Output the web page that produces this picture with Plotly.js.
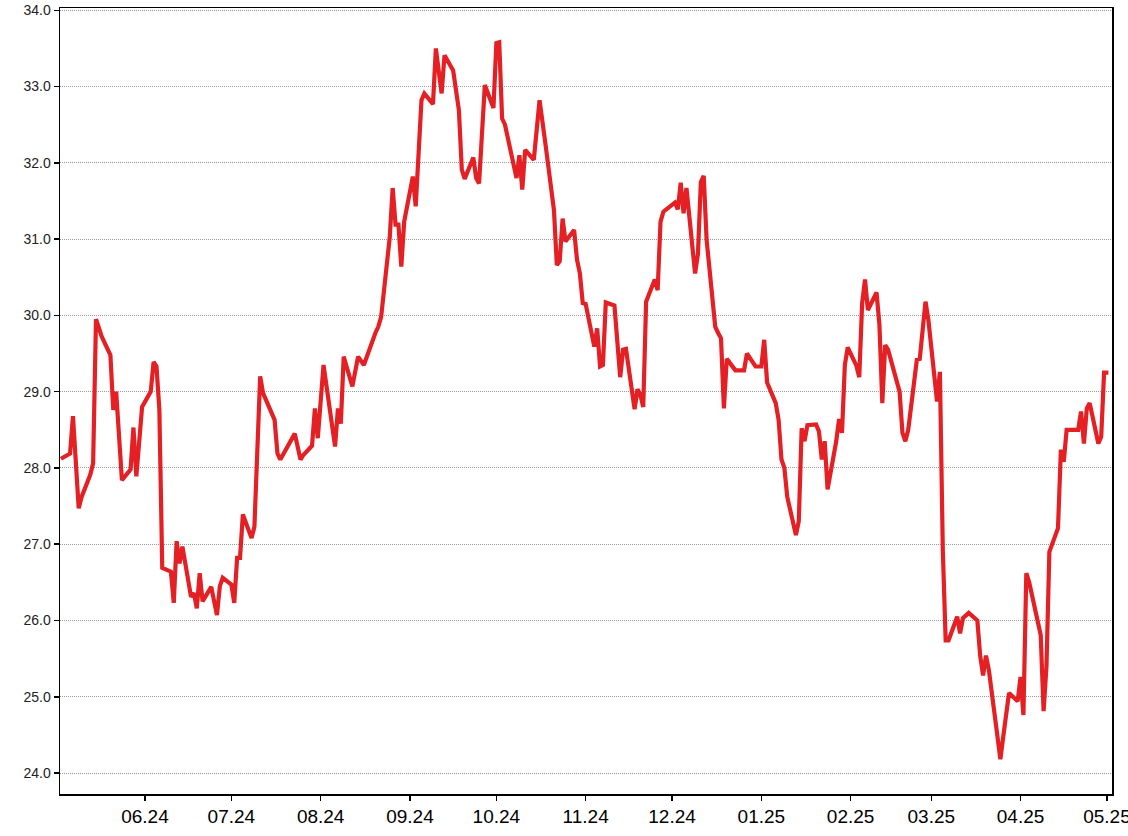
<!DOCTYPE html>
<html>
<head>
<meta charset="utf-8">
<script src="https://cdn.plot.ly/plotly-3.0.1.min.js"></script>
<style>
html,body{margin:0;padding:0;background:#fff;}
#chart{width:1128px;height:836px;}
</style>
</head>
<body>
<div id="chart"></div>
<script>
const dates = [
'2024-05-02 20:00','2024-05-06','2024-05-07','2024-05-09','2024-05-10','2024-05-13','2024-05-14','2024-05-15','2024-05-17','2024-05-20',
'2024-05-21','2024-05-22','2024-05-24','2024-05-27','2024-05-28','2024-05-29','2024-05-31',
'2024-06-03','2024-06-04','2024-06-05','2024-06-06','2024-06-07','2024-06-10','2024-06-11','2024-06-12','2024-06-13','2024-06-14',
'2024-06-17','2024-06-18','2024-06-19','2024-06-20','2024-06-21','2024-06-24','2024-06-26','2024-06-27','2024-06-28',
'2024-07-01','2024-07-02','2024-07-03','2024-07-04','2024-07-05','2024-07-08','2024-07-09','2024-07-11','2024-07-12','2024-07-16',
'2024-07-17','2024-07-18','2024-07-23','2024-07-25','2024-07-26','2024-07-29','2024-07-30','2024-07-31',
'2024-08-02','2024-08-06','2024-08-07','2024-08-08','2024-08-09','2024-08-12','2024-08-14','2024-08-16','2024-08-20','2024-08-21',
'2024-08-22','2024-08-25','2024-08-26','2024-08-27','2024-08-28','2024-08-29','2024-08-30',
'2024-09-02','2024-09-03','2024-09-05','2024-09-06','2024-09-09','2024-09-10','2024-09-12','2024-09-13','2024-09-16','2024-09-18',
'2024-09-19','2024-09-20','2024-09-23','2024-09-24','2024-09-25','2024-09-27','2024-09-30',
'2024-10-01','2024-10-02','2024-10-03','2024-10-04','2024-10-08','2024-10-09','2024-10-10','2024-10-11','2024-10-14','2024-10-16',
'2024-10-18','2024-10-21','2024-10-22','2024-10-23','2024-10-24','2024-10-25','2024-10-28','2024-10-29','2024-10-30','2024-10-31',
'2024-11-01','2024-11-04','2024-11-05','2024-11-06','2024-11-07','2024-11-08','2024-11-11','2024-11-13','2024-11-14','2024-11-15',
'2024-11-18','2024-11-19','2024-11-20','2024-11-21','2024-11-22','2024-11-25','2024-11-26','2024-11-27','2024-11-28',
'2024-12-01','2024-12-02','2024-12-03','2024-12-04','2024-12-05','2024-12-06','2024-12-09','2024-12-10','2024-12-11','2024-12-12',
'2024-12-13','2024-12-16','2024-12-17','2024-12-18','2024-12-19','2024-12-20','2024-12-23','2024-12-26','2024-12-27','2024-12-30',
'2025-01-01','2025-01-02','2025-01-03','2025-01-06','2025-01-07','2025-01-08','2025-01-09','2025-01-10','2025-01-13','2025-01-14',
'2025-01-15','2025-01-16','2025-01-17','2025-01-20','2025-01-21','2025-01-22','2025-01-23','2025-01-24','2025-01-27','2025-01-28',
'2025-01-29','2025-01-30','2025-01-31',
'2025-02-03','2025-02-04','2025-02-05','2025-02-06','2025-02-07','2025-02-10','2025-02-11','2025-02-12','2025-02-13','2025-02-14',
'2025-02-17','2025-02-18','2025-02-19','2025-02-20','2025-02-21','2025-02-24','2025-02-25','2025-02-27','2025-02-28',
'2025-03-03','2025-03-04','2025-03-05','2025-03-06','2025-03-07','2025-03-10','2025-03-11','2025-03-12','2025-03-14','2025-03-17',
'2025-03-18','2025-03-19','2025-03-20','2025-03-21','2025-03-25','2025-03-26','2025-03-28','2025-03-31',
'2025-04-01','2025-04-02','2025-04-03','2025-04-04','2025-04-07','2025-04-08','2025-04-09','2025-04-10','2025-04-11','2025-04-14',
'2025-04-15','2025-04-16','2025-04-17','2025-04-21','2025-04-22','2025-04-23','2025-04-24','2025-04-25','2025-04-28','2025-04-29',
'2025-04-30','2025-05-01 12:00'
];
const prices = [
28.12,28.19,28.68,27.47,27.62,27.91,28.06,29.95,29.72,29.48,
28.76,29.00,27.84,27.98,28.53,27.89,28.80,
29.00,29.39,29.33,28.76,26.69,26.64,26.23,27.04,26.75,26.97,
26.31,26.36,26.16,26.62,26.25,26.44,26.07,26.45,26.56,
26.47,26.23,26.82,26.82,27.39,27.08,27.23,29.20,28.98,28.63,
28.19,28.11,28.45,28.11,28.17,28.29,28.78,28.39,
29.35,28.28,28.78,28.58,29.46,29.07,29.46,29.35,29.77,29.85,
29.98,31.03,31.67,31.19,31.19,30.64,31.23,
31.82,31.43,32.82,32.91,32.77,33.50,32.91,33.41,33.21,32.69,
31.91,31.79,32.07,31.80,31.73,33.02,32.72,
33.57,33.58,32.58,32.50,31.80,32.10,31.65,32.17,32.04,32.82,
32.26,31.38,30.66,30.71,31.27,30.97,31.12,30.73,30.55,30.16,
30.15,29.59,29.83,29.33,29.35,30.17,30.13,29.19,29.55,29.56,
28.77,29.03,28.96,28.80,30.18,30.47,30.33,31.23,31.36,
31.44,31.48,31.39,31.74,31.34,31.67,30.55,30.81,31.75,31.83,
30.99,29.85,29.77,29.70,28.78,29.43,29.28,29.28,29.50,29.33,
29.33,29.68,29.12,28.85,28.63,28.11,28.00,27.62,27.12,27.30,
28.52,28.35,28.56,28.57,28.48,28.11,28.35,27.72,28.35,28.64,
28.46,29.35,29.58,
29.34,29.19,30.16,30.47,30.07,30.30,29.88,28.85,29.61,29.55,
29.11,29.00,28.46,28.35,28.50,29.42,29.43,30.18,29.94,
28.87,29.26,26.93,25.74,25.74,26.05,25.83,26.03,26.10,26.00,
25.53,25.28,25.54,25.35,24.18,24.48,25.05,24.94,
25.26,24.76,26.62,26.50,25.93,25.81,24.81,25.40,26.90,27.21,
28.24,28.08,28.50,28.50,28.74,28.32,28.78,28.85,28.32,28.41,
29.25,29.25
];
const yTicks = [24,25,26,27,28,29,30,31,32,33,34];
const yTickLabels = ['24.0','25.0','26.0','27.0','28.0','29.0','30.0','31.0','32.0','33.0','34.0'];
const xTicks = ['2024-06-01','2024-07-01','2024-08-01','2024-09-01','2024-10-01','2024-11-01','2024-12-01','2025-01-01','2025-02-01','2025-03-01','2025-04-01','2025-05-01'];
const xTickLabels = ['06.24','07.24','08.24','09.24','10.24','11.24','12.24','01.25','02.25','03.25','04.25','05.25'];

const trace = {
  x: dates, y: prices, type: 'scatter', mode: 'lines',
  line: {color: '#e52025', width: 4.2, shape: 'linear'},
  hoverinfo: 'x+y'
};
const layout = {
  width: 1128, height: 836,
  margin: {l: 60, r: 16, t: 8, b: 42, pad: 0},
  paper_bgcolor: '#ffffff', plot_bgcolor: '#ffffff',
  showlegend: false,
  font: {family: 'Liberation Sans, Arial, sans-serif', color: '#000'},
  xaxis: {
    type: 'date',
    range: ['2024-05-02 12:00', '2025-05-02 18:00'],
    tickmode: 'array', tickvals: xTicks, ticktext: xTickLabels,
    ticks: 'outside', ticklen: 5, tickwidth: 1.5, tickcolor: '#000',
    tickfont: {size: 19, color: '#000'},
    showline: true, linecolor: '#000', linewidth: 1.5, mirror: true,
    showgrid: false, zeroline: false,
    ticklabeloverflow: 'allow'
  },
  yaxis: {
    range: [23.725, 34.03],
    tickmode: 'array', tickvals: yTicks, ticktext: yTickLabels,
    ticks: 'outside', ticklen: 5, tickwidth: 1.5, tickcolor: '#000',
    tickfont: {size: 14, color: '#222'},
    showline: true, linecolor: '#000', linewidth: 1.5, mirror: true,
    showgrid: true, gridcolor: '#9a9a9a', gridwidth: 1, griddash: '1px,1px',
    zeroline: false
  }
};
Plotly.newPlot('chart', [trace], layout, {displayModeBar: false, staticPlot: true});
</script>
</body>
</html>
